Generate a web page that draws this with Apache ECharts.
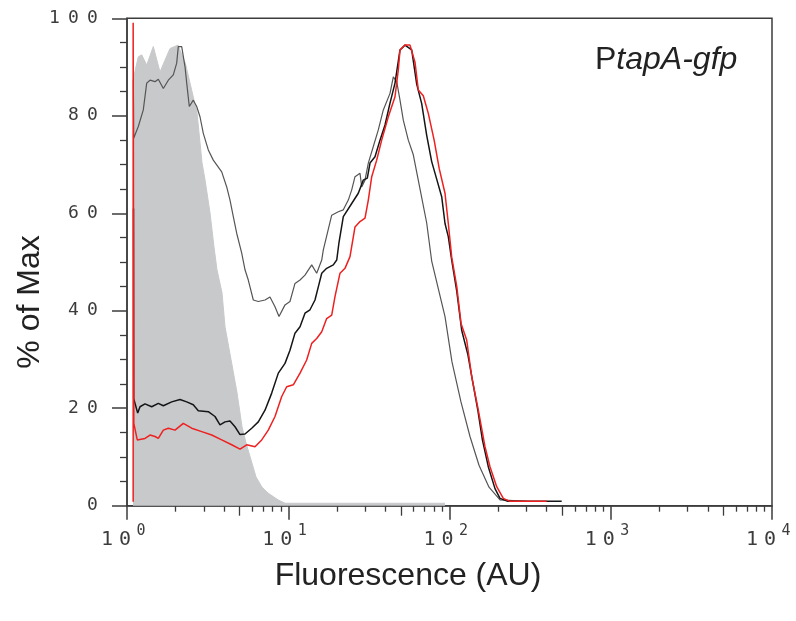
<!DOCTYPE html>
<html><head><meta charset="utf-8">
<script src="https://cdn.jsdelivr.net/npm/echarts@6/dist/echarts.min.js"></script>
<style>html,body{margin:0;padding:0;background:#fff}#c{width:796px;height:621px}</style>
</head><body><div id="c"></div>
<script>
// ---- axis ticks ----
const yTicks = [0, 20, 40, 60, 80, 100];
const xDecades = [1, 10, 100, 1000, 10000];
const xFiveTicks = [5, 50, 500, 5000];
const xMinorTicks = [2,3,4,6,7,8,9, 20,30,40,60,70,80,90, 200,300,400,600,700,800,900, 2000,3000,4000,6000,7000,8000,9000];

// ---- control (unstained) filled histogram ----
const fillX = [1.089,1.175,1.234,1.325,1.456,1.602,1.720,1.848,2.072,2.30,2.718,2.918,3.046,3.271,3.463,3.615,3.883,4.054,4.416,4.811,5.167,5.470,5.875,6.310,6.874,7.489,8.640,9.546,93.8];
const fillY = [87.3,92.1,92.5,90.4,94.2,89.0,91.4,93.8,94.5,90.8,80.6,70.4,66.9,60.1,53.1,48.4,43.7,36.7,30.0,23.2,16.2,12.9,9.4,5.9,3.8,2.6,1.2,0.5,0.5];

// ---- thin grey line ----
const thinX = [1.095,1.100,1.175,1.262,1.325,1.389,1.492,1.564,1.680,1.804,1.937,2.033,2.080,2.184,2.289,2.346,2.434,2.577,2.705,2.836,2.973,3.193,3.429,3.867,4.153,4.353,4.563,4.789,5.145,5.393,5.652,6.072,6.522,7.175,7.704,8.276,8.763,9.546,10.25,11.01,11.83,12.70,13.98,15.01,16.13,16.50,18.60,20.43,21.95,23.57,24.75,25.94,27.86,28.54,29.92,31.37,33.69,36.18,38.86,42.76,44.83,47.06,49.32,51.70,55.53,59.64,65.62,72.21,77.55,93.8,103.6,117.8,134.0,152.4,175.8,205.7,300];
const thinY = [87.3,75.4,77.8,81.2,86.7,87.3,87.0,87.5,85.6,87.3,88.4,90.8,94.2,94.2,90.1,86.7,81.9,83.2,81.9,79.8,76.4,73.0,70.9,68.5,65.4,62.7,59.3,55.9,51.8,48.4,46.3,42.2,41.9,42.2,42.8,40.8,38.8,41.2,41.9,45.6,46.3,47.3,49.4,47.7,50.4,52.5,59.6,60.3,60.7,62.7,64.8,67.5,68.2,65.4,66.8,70.3,73.7,77.1,81.2,84.6,88.0,87.0,83.2,79.1,75.0,72.0,65.0,58.0,50.2,38.8,29.5,21.3,14.2,8.3,3.8,1.2,0.9];

// ---- black line ----
const blackX = [1.097,1.100,1.121,1.165,1.204,1.293,1.423,1.564,1.680,1.893,2.132,2.346,2.577,2.768,3.193,3.513,3.773,4.054,4.353,4.675,5.022,5.393,5.935,6.522,7.175,7.896,8.678,9.546,10.25,11.01,11.83,12.70,13.64,14.65,15.36,16.13,17.31,19.03,19.98,20.6,21.95,24.75,27.19,29.20,30.92,32.14,34.51,37.07,39.81,42.76,45.92,49.32,52.97,58.29,62.61,67.23,72.21,77.55,83.29,89.45,93.78,98.31,103.2,110.9,119.0,130,140,150,160,174.0,191.5,205.7,230,496.4];
const blackY = [61,22,21.7,19.0,20.3,20.9,20.3,21.0,20.5,21.3,21.8,21.3,20.7,19.5,19.3,18.3,16.6,17.2,17.4,16.2,14.6,14.7,15.9,17.2,19.6,23.1,27.2,29.2,31.9,35.4,36.7,39.5,40.2,42.2,44.9,47.7,48.7,49.4,50.4,53.8,59.3,62.0,64.1,66.8,67.2,70.3,71.6,75.0,78.1,82.6,86.7,93.5,94.5,93.5,86.5,82.5,76.0,70.6,67.0,63.4,57.9,55.2,50.4,44.0,36.0,31.0,25.0,19.5,13.5,8.0,3.5,1.5,0.9,0.9];

// ---- red line ----
const redX = [1.092,1.092,1.098,1.102,1.121,1.158,1.293,1.389,1.492,1.564,1.680,1.804,1.985,2.234,2.519,2.906,3.352,3.867,4.460,5.022,5.525,6.220,6.845,7.520,8.276,9.109,9.781,10.75,11.83,13.01,13.98,15.01,16.13,17.31,18.60,19.49,20.94,22.48,24.15,25.94,27.86,29.92,31.37,32.93,35.36,37.97,41.74,45.92,48.14,49.32,52.97,56.89,61.09,64.04,68.78,73.88,80.3,86.3,93.78,98.31,103.2,110.9,117.9,127.8,137.3,150.9,166.0,178.3,196.2,215.6,237.2,400.6];
const redY = [0.8,99.1,99.1,16.9,16.9,13.5,13.8,14.5,14.2,13.8,15.5,15.9,15.5,16.9,15.9,15.2,14.5,13.5,12.5,11.6,12.5,12.1,13.5,15.5,18.3,22.4,24.4,24.8,27.2,29.9,33.3,34.3,35.7,38.4,39.1,42.9,47.7,48.7,51.1,57.2,58.3,59.0,62.7,67.5,70.9,75.0,79.8,83.9,89.4,93.5,94.5,94.5,91.0,85.3,84.1,80.5,75.0,69.2,64.1,57.9,51.0,45.0,37.4,34.0,26.5,19.6,12.1,8.0,3.9,1.5,0.9,0.9];

const zip = (xs, ys) => xs.map((x, i) => [x, ys[i]]);

const AX = '#3c3c3c';
const MONO = '"DejaVu Sans Mono", monospace';
const SANS = '"Liberation Sans", Arial, sans-serif';

const chart = echarts.init(document.getElementById('c'));
const hiddenTickAxis = (vals, len) => ({
  type: 'value', min: 0, max: 4, position: 'bottom', gridIndex: 0,
  axisLine: { show: false }, axisLabel: { show: false }, splitLine: { show: false },
  axisTick: { show: true, length: len, customValues: vals.map(v => Math.log10(v)), lineStyle: { color: AX, width: 1.3 } }
});

chart.setOption({
  animation: false,
  backgroundColor: '#fff',
  grid: { left: 127, top: 18.3, width: 645, height: 487.4, show: true, borderColor: AX, borderWidth: 1.5, backgroundColor: 'transparent' },
  xAxis: [
    {
      type: 'log', logBase: 10, min: xDecades[0], max: xDecades[xDecades.length - 1], position: 'bottom',
      axisLine: { lineStyle: { color: AX, width: 1.5 } },
      axisTick: { length: 14, lineStyle: { color: AX, width: 1.5 } },
      splitLine: { show: false }, minorTick: { show: false },
      axisLabel: {
        margin: 16, padding: [0, 8, 0, 0],
        formatter: v => '{d|1}{d|0}{s|' + Math.round(Math.log10(v)) + '}',
        rich: {
          d: { fontFamily: MONO, fontSize: 20, color: AX, width: 18, align: 'center', height: 20, lineHeight: 28, verticalAlign: 'bottom' },
          s: { fontFamily: MONO, fontSize: 15, color: AX, width: 14, align: 'center', height: 19, lineHeight: 28, verticalAlign: 'top' }
        }
      }
    },
    hiddenTickAxis(xFiveTicks, 10),
    hiddenTickAxis(xMinorTicks, 6)
  ],
  yAxis: {
    type: 'value', min: yTicks[0], max: yTicks[yTicks.length - 1], interval: yTicks[1] - yTicks[0],
    axisLine: { show: true, lineStyle: { color: AX, width: 1.5 } },
    axisTick: { show: true, length: 15, lineStyle: { color: AX, width: 1.5 } },
    minorTick: { show: true, splitNumber: 4, length: 7, lineStyle: { color: AX, width: 1.3 } },
    splitLine: { show: false },
    axisLabel: {
      margin: 25,
      formatter: v => String(v).split('').map(c => '{d|' + c + '}').join(''),
      rich: { d: { fontFamily: MONO, fontSize: 18, color: AX, width: 19, align: 'center' } }
    }
  },
  series: [
    { type: 'line', name: 'control', data: zip(fillX, fillY), symbol: 'none', xAxisIndex: 0,
      lineStyle: { color: '#c8c9cb', width: 1 }, areaStyle: { color: '#c8c9cb', opacity: 1 } },
    { type: 'line', name: 'grey', data: zip(thinX, thinY), symbol: 'none', xAxisIndex: 0,
      lineStyle: { color: '#555', width: 1.2 } },
    { type: 'line', name: 'black', data: zip(blackX, blackY), symbol: 'none', xAxisIndex: 0,
      lineStyle: { color: '#151515', width: 1.5 } },
    { type: 'line', name: 'red', data: zip(redX, redY), symbol: 'none', xAxisIndex: 0,
      lineStyle: { color: '#ee2020', width: 1.5 } }
  ],
  graphic: [
    { type: 'text', x: 408, y: 576, style: { text: 'Fluorescence (AU)', fontFamily: SANS, fontSize: 32, fill: '#222', align: 'center', verticalAlign: 'middle' } },
    { type: 'text', x: 30, y: 302, rotation: Math.PI / 2, style: { text: '% of Max', fontFamily: SANS, fontSize: 32, fill: '#222', align: 'center', verticalAlign: 'middle' } },
    { type: 'text', x: 595, y: 60, style: { text: '{n|P}{i|tapA-gfp}', fill: '#222', align: 'left', verticalAlign: 'middle',
        rich: { n: { fontFamily: SANS, fontSize: 32, fill: '#222' }, i: { fontFamily: SANS, fontSize: 32, fontStyle: 'italic', fill: '#222' } } } }
  ]
});
</script></body></html>
